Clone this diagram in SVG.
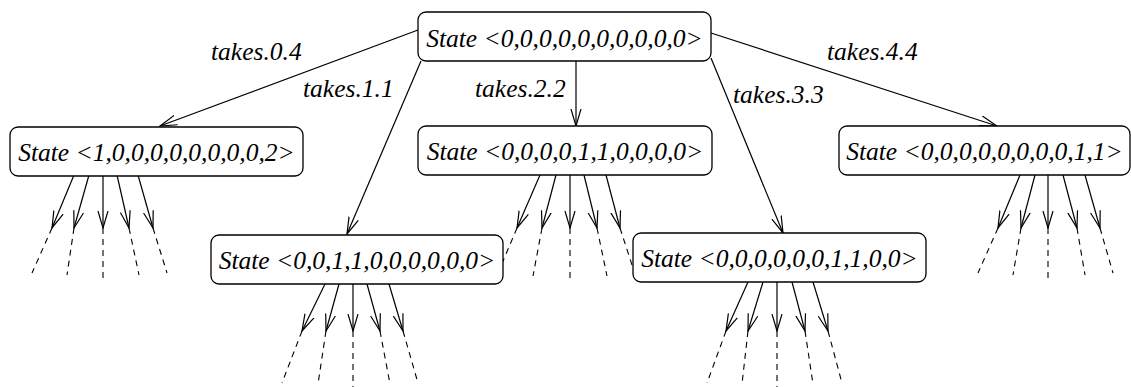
<svg xmlns="http://www.w3.org/2000/svg" width="1131" height="387" viewBox="0 0 1131 387">
<style>
.box{fill:#fff;stroke:#000;stroke-width:1.3}
.lbl{font-family:"Liberation Serif","Times New Roman",serif;font-style:italic;font-size:25.5px;fill:#000}
.nt{text-anchor:middle}
.e{stroke:#000;stroke-width:1.2;fill:none;marker-end:url(#ah)}
.d{stroke:#000;stroke-width:1.1;fill:none;stroke-dasharray:6,5}
</style>
<defs>
<marker id="ah" viewBox="0 0 18 12" refX="17" refY="6" markerWidth="18" markerHeight="12" markerUnits="userSpaceOnUse" orient="auto">
<path d="M0,1 L17,6 L0,11" fill="none" stroke="#000" stroke-width="1.2"/>
</marker>
</defs>
<g id="connectors">
<line class="e" x1="418" y1="30" x2="160" y2="126"/>
<line class="e" x1="421" y1="61" x2="347" y2="234"/>
<line class="e" x1="576" y1="61" x2="576" y2="126"/>
<line class="e" x1="711" y1="58" x2="783" y2="233"/>
<line class="e" x1="711" y1="33" x2="997" y2="126"/>
<!-- box1 fan -->
<line class="e" x1="74" y1="175" x2="52" y2="228"/>
<line class="e" x1="89" y1="175" x2="74" y2="228"/>
<line class="e" x1="103" y1="175" x2="103" y2="228"/>
<line class="e" x1="117" y1="175" x2="129" y2="228"/>
<line class="e" x1="138" y1="175" x2="153" y2="228"/>
<line class="d" x1="52" y1="228" x2="32" y2="273"/>
<line class="d" x1="74" y1="228" x2="67" y2="275"/>
<line class="d" x1="103" y1="228" x2="103" y2="283"/>
<line class="d" x1="129" y1="228" x2="139" y2="275"/>
<line class="d" x1="153" y1="228" x2="167" y2="273"/>
<!-- box2 fan -->
<line class="e" x1="325" y1="284" x2="302" y2="331"/>
<line class="e" x1="339" y1="284" x2="326" y2="331"/>
<line class="e" x1="353" y1="284" x2="353" y2="331"/>
<line class="e" x1="367" y1="284" x2="380" y2="331"/>
<line class="e" x1="389" y1="284" x2="403" y2="331"/>
<line class="d" x1="302" y1="331" x2="282" y2="383"/>
<line class="d" x1="326" y1="331" x2="318" y2="384"/>
<line class="d" x1="353" y1="331" x2="353" y2="387"/>
<line class="d" x1="380" y1="331" x2="390" y2="384"/>
<line class="d" x1="403" y1="331" x2="418" y2="383"/>
<!-- box3 fan -->
<line class="e" x1="540" y1="175" x2="517" y2="228"/>
<line class="e" x1="556" y1="175" x2="542" y2="228"/>
<line class="e" x1="570" y1="175" x2="570" y2="228"/>
<line class="e" x1="584" y1="175" x2="597" y2="228"/>
<line class="e" x1="606" y1="175" x2="620" y2="228"/>
<line class="d" x1="517" y1="228" x2="498" y2="273"/>
<line class="d" x1="542" y1="228" x2="533" y2="276"/>
<line class="d" x1="570" y1="228" x2="570" y2="283"/>
<line class="d" x1="597" y1="228" x2="607" y2="276"/>
<line class="d" x1="620" y1="228" x2="633" y2="268"/>
<!-- box4 fan -->
<line class="e" x1="748" y1="282" x2="726" y2="331"/>
<line class="e" x1="763" y1="282" x2="748" y2="331"/>
<line class="e" x1="777" y1="282" x2="777" y2="331"/>
<line class="e" x1="792" y1="282" x2="805" y2="331"/>
<line class="e" x1="813" y1="282" x2="828" y2="331"/>
<line class="d" x1="726" y1="331" x2="707" y2="383"/>
<line class="d" x1="748" y1="331" x2="742" y2="384"/>
<line class="d" x1="777" y1="331" x2="777" y2="387"/>
<line class="d" x1="805" y1="331" x2="813" y2="384"/>
<line class="d" x1="828" y1="331" x2="842" y2="383"/>
<!-- box5 fan -->
<line class="e" x1="1020" y1="175" x2="998" y2="228"/>
<line class="e" x1="1035" y1="175" x2="1021" y2="228"/>
<line class="e" x1="1048" y1="175" x2="1048" y2="228"/>
<line class="e" x1="1063" y1="175" x2="1077" y2="228"/>
<line class="e" x1="1085" y1="175" x2="1100" y2="228"/>
<line class="d" x1="998" y1="228" x2="978" y2="273"/>
<line class="d" x1="1021" y1="228" x2="1013" y2="275"/>
<line class="d" x1="1048" y1="228" x2="1048" y2="283"/>
<line class="d" x1="1077" y1="228" x2="1085" y2="275"/>
<line class="d" x1="1100" y1="228" x2="1113" y2="273"/>
</g>
<g id="edge-labels">
<text class="lbl" x="211" y="60">takes.0.4</text>
<text class="lbl" x="303" y="97">takes.1.1</text>
<text class="lbl" x="475" y="97">takes.2.2</text>
<text class="lbl" x="733" y="103">takes.3.3</text>
<text class="lbl" x="827" y="60">takes.4.4</text>
</g>
<g id="root">
<rect class="box" x="418" y="12" width="293" height="49" rx="8"/>
<text class="lbl nt" x="564.5" y="47">State &lt;0,0,0,0,0,0,0,0,0,0&gt;</text>
</g>
<g id="s1">
<rect class="box" x="10" y="127" width="293" height="49" rx="8"/>
<text class="lbl nt" x="156.5" y="161">State &lt;1,0,0,0,0,0,0,0,0,2&gt;</text>
</g>
<g id="s2">
<rect class="box" x="211" y="235" width="292" height="49" rx="8"/>
<text class="lbl nt" x="357" y="269">State &lt;0,0,1,1,0,0,0,0,0,0&gt;</text>
</g>
<g id="s3">
<rect class="box" x="418" y="126" width="294" height="49" rx="8"/>
<text class="lbl nt" x="565" y="160">State &lt;0,0,0,0,1,1,0,0,0,0&gt;</text>
</g>
<g id="s4">
<rect class="box" x="633" y="233" width="293" height="49" rx="8"/>
<text class="lbl nt" x="779.5" y="267">State &lt;0,0,0,0,0,0,1,1,0,0&gt;</text>
</g>
<g id="s5">
<rect class="box" x="839" y="126" width="291" height="49" rx="8"/>
<text class="lbl nt" x="984.5" y="160">State &lt;0,0,0,0,0,0,0,0,1,1&gt;</text>
</g>
</svg>
